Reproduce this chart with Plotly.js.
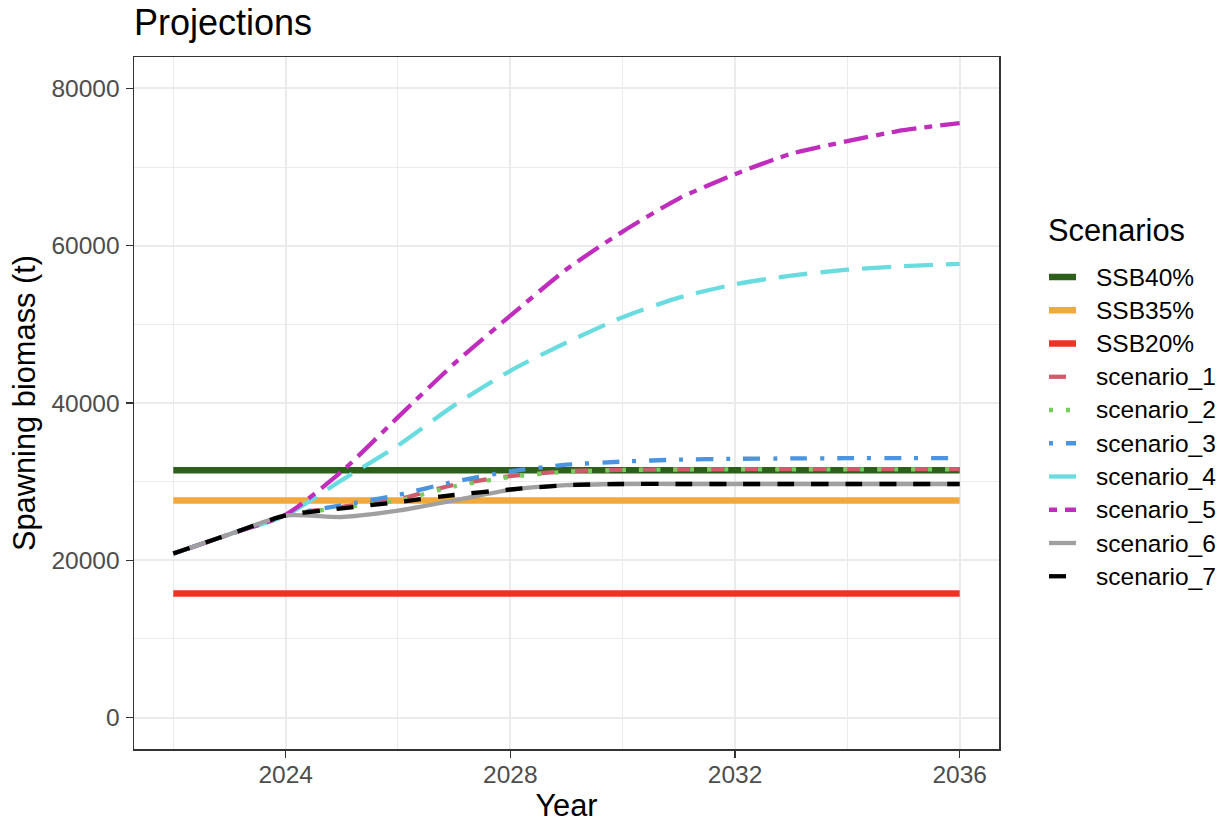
<!DOCTYPE html>
<html>
<head>
<meta charset="utf-8">
<script src="https://cdn.plot.ly/plotly-3.0.1.min.js"></script>
<style>html,body{margin:0;padding:0;background:#fff;}#chart{width:1225px;height:824px;}</style>
</head>
<body>
<div id="chart"></div>
<script>
// ---- data ----
const years = [2022,2023,2024,2025,2026,2027,2028,2029,2030,2031,2032,2033,2034,2035,2036];

const refNames  = ["SSB40%", "SSB35%", "SSB20%"];
const refValues = [31450, 27600, 15780];
const refColors = ["#2C5F1A", "#F2A93B", "#EE3325"];

const scenarioNames = ["scenario_1","scenario_2","scenario_3","scenario_4","scenario_5","scenario_6","scenario_7"];
const scenario_1 = [20850,23300,25700,26800,27750,29600,30700,31330,31500,31560,31580,31600,31600,31600,31600];
const scenario_2 = [20850,23300,25700,26700,27600,29400,30600,31250,31480,31540,31560,31570,31570,31570,31570];
const scenario_3 = [20850,23300,25700,27000,28300,30000,31300,32150,32550,32800,32900,32950,32980,33000,33000];
const scenario_4 = [20850,23300,25700,30200,34600,39700,44100,47700,50900,53400,55100,56200,56950,57400,57700];
const scenario_5 = [20850,23300,25800,31300,38200,45000,51100,57000,61800,66000,69100,71700,73300,74700,75600];
const scenario_6 = [20850,23300,25700,25500,26300,27600,28950,29550,29700,29700,29700,29700,29700,29700,29700];
const scenario_7 = [20850,23300,25700,26600,27400,28300,29000,29550,29700,29700,29700,29700,29700,29700,29700];
const scenarioValues = [scenario_1,scenario_2,scenario_3,scenario_4,scenario_5,scenario_6,scenario_7];
const scenarioColors = ["#CF5B6C","#77CC5E","#4A94E0","#6ADCE0","#C02DBD","#A0A0A0","#000000"];
const scenarioDash = ["17px,17px","4px,13px","4px,13px,17px,13px","29px,13px","8px,8px,25px,8px","solid","17px,17px"];

const xTicks = [2024,2028,2032,2036];
const xMinor = [2022,2026,2030,2034];
const yTicks = [0,20000,40000,60000,80000];
const yMinor = [10000,30000,50000,70000];

const legendTitle = "Scenarios";

// ---- traces ----
const REF_W = 6.5, SCN_W = 4.3;
const traces = [];
const legendItems = [];
refNames.forEach((n,i)=>{
  traces.push({
    type:'scatter', mode:'lines', name:n,
    x:[years[0], years[years.length-1]], y:[refValues[i], refValues[i]],
    line:{color:refColors[i], width:REF_W},
    hoverinfo:'skip', showlegend:false
  });
  legendItems.push({name:n, color:refColors[i], width:REF_W, dash:'solid'});
});
scenarioNames.forEach((n,i)=>{
  traces.push({
    type:'scatter', mode:'lines', name:n,
    x:years, y:scenarioValues[i],
    line:{color:scenarioColors[i], width:SCN_W, dash:scenarioDash[i], shape:'spline', smoothing:0.6},
    hoverinfo:'skip', showlegend:false
  });
  legendItems.push({name:n, color:scenarioColors[i], width:SCN_W, dash:scenarioDash[i]});
});

// ---- legend (ggplot-style, built from the series names/styles) ----
const PL = 134, PR = 999, PT = 57, PB = 749;
const px2x = p => (p - PL) / (PR - PL);
const px2y = p => (PB - p) / (PB - PT);
const FONT = "Liberation Sans, Arial, Helvetica, sans-serif";
const shapes = [];
const annotations = [{
  text:legendTitle, xref:'paper', yref:'paper', x:px2x(1046), y:px2y(231),
  xanchor:'left', yanchor:'middle', showarrow:false,
  font:{family:FONT, size:30.8, color:'#000'}
}];
legendItems.forEach((it,i)=>{
  const cy = 277 + 33.25*i;
  shapes.push({type:'line', xref:'paper', yref:'paper',
    x0:px2x(1049), x1:px2x(1076), y0:px2y(cy), y1:px2y(cy),
    line:{color:it.color, width:it.width, dash:it.dash}});
  annotations.push({text:it.name, xref:'paper', yref:'paper', x:px2x(1094), y:px2y(cy),
    xanchor:'left', yanchor:'middle', showarrow:false,
    font:{family:FONT, size:24.5, color:'#000'}});
});

const layout = {
  width:1225, height:824,
  paper_bgcolor:'#ffffff', plot_bgcolor:'#ffffff',
  margin:{l:PL, r:1225-PR, t:PT, b:824-PB, pad:0},
  font:{family:FONT, color:'#000000'},
  title:{text:'Projections', font:{family:FONT, size:36, color:'#000'},
         x:134/1225, xref:'container', xanchor:'left', y:1-22/824, yref:'container', yanchor:'middle'},
  showlegend:false,
  shapes:shapes,
  annotations:annotations,
  xaxis:{
    range:[2021.3, 2036.7], tickmode:'array', tickvals:xTicks, ticktext:xTicks.map(String),
    ticks:'outside', ticklen:7, tickwidth:1.5, tickcolor:'#333333',
    tickfont:{family:FONT, size:24.5, color:'#4D4D4D'}, ticklabelstandoff:-4,
    showgrid:true, gridcolor:'#EBEBEB', gridwidth:2,
    minor:{tickmode:'array', tickvals:xMinor, showgrid:true, gridcolor:'#EBEBEB', gridwidth:1, ticks:''},
    showline:true, mirror:true, linecolor:'#333333', linewidth:1.5,
    zeroline:false, automargin:false,
    title:{text:'Year', font:{family:FONT, size:30.8, color:'#000'}, standoff:2}
  },
  yaxis:{
    range:[-4000, 84000], tickmode:'array', tickvals:yTicks, ticktext:yTicks.map(String),
    ticks:'outside', ticklen:7, tickwidth:1.5, tickcolor:'#333333',
    tickfont:{family:FONT, size:24.5, color:'#4D4D4D'}, ticklabelstandoff:1,
    showgrid:true, gridcolor:'#EBEBEB', gridwidth:2,
    minor:{tickmode:'array', tickvals:yMinor, showgrid:true, gridcolor:'#EBEBEB', gridwidth:1, ticks:''},
    showline:true, mirror:true, linecolor:'#333333', linewidth:1.5,
    zeroline:false, automargin:false,
    title:{text:'Spawning biomass (t)', font:{family:FONT, size:30.8, color:'#000'}, standoff:6}
  }
};

Plotly.newPlot('chart', traces, layout, {displayModeBar:false, staticPlot:true});
</script>
</body>
</html>
